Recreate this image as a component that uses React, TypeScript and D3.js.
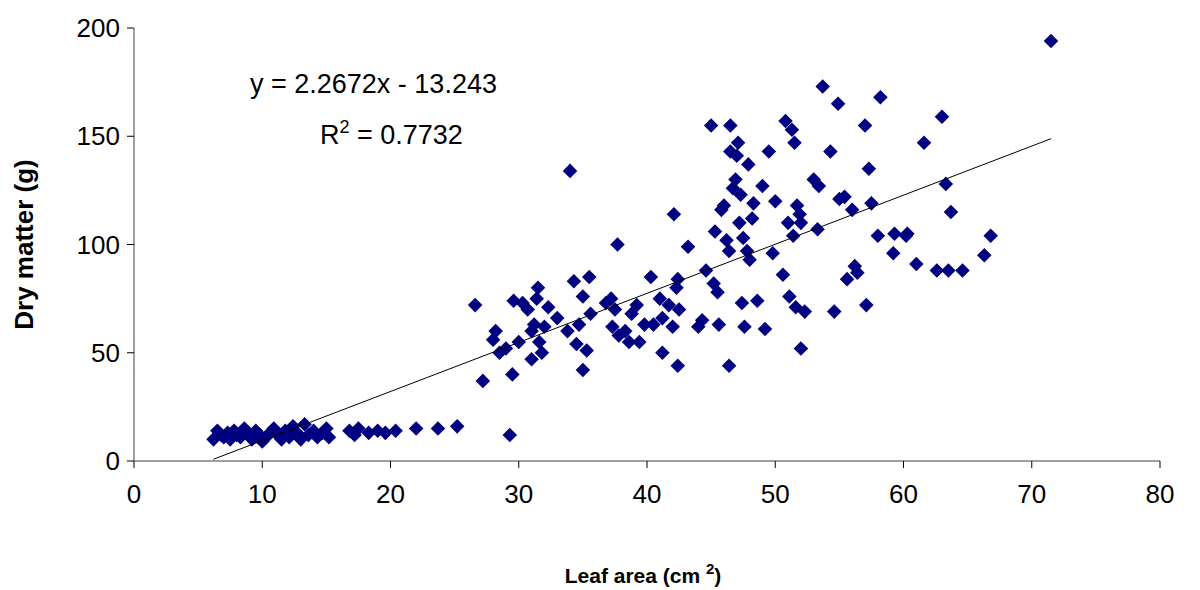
import * as d3 from 'd3'

const xs = [6.2,6.5,6.8,7,7.3,7.5,7.8,8,8.3,8.6,8.9,9.2,9.5,9.8,10,10.3,10.6,10.9,11.2,11.5,11.8,12.1,12.4,12.7,13,13.3,13.6,14,14.3,14.7,15,15.2,16.8,17.2,17.5,18.3,19,19.6,20.4,22,23.7,25.2,
26.6,27.2,28,28.2,28.5,29,29.3,29.5,29.6,30,30.3,30.7,31,31,31.2,31.4,31.5,31.6,31.8,32,32.3,33,33.8,34,34.3,34.5,34.7,35,35,35.3,35.5,35.6,36.8,37.2,37.3,37.5,37.7,37.8,38.3,38.6,38.8,39.2,39.4,39.8,40.3,40.5,41,41.2,41.2,41.7,42,42.1,42.3,42.4,42.4,42.5,43.2,44,44.3,44.6,45,45.2,45.3,45.5,45.6,45.8,46,46.2,46.4,46.4,46.5,46.5,46.7,46.9,47,47.1,47.2,47.3,47.4,47.5,47.6,47.8,47.9,48,48.2,48.3,48.6,49,49.2,49.5,49.8,50,50.6,50.8,51,51.1,51.3,51.4,51.5,51.6,51.7,51.9,52,52,52.3,53,53.3,53.4,53.7,54.3,54.6,54.9,55,55.4,55.6,56,56.2,56.4,57.1,57,57.3,57.5,58,58.2,59.2,59.3,60.2,60.3,61,61.6,62.6,63,63.3,63.5,63.7,64.6,66.3,66.8,71.5]
const ys = [10,14,12,11,13,10,14,12,11,15,13,10,14,12,9,11,13,15,12,10,14,11,16,13,10,17,12,14,11,13,15,11,14,12,15,13,14,13,14,15,15,16,
72,37,56,60,50,52,12,40,74,55,73,70,60,47,63,75,80,55,50,62,71,66,60,134,83,54,63,76,42,51,85,68,73,75,62,70,100,58,60,55,68,72,55,63,85,63,75,66,50,72,62,114,80,44,84,70,99,62,65,88,155,82,106,78,63,116,118,102,44,97,155,143,126,130,141,147,110,123,73,103,62,97,137,93,112,119,74,127,61,143,96,120,86,157,110,76,153,104,147,71,118,114,110,52,69,130,107,127,173,143,69,165,121,122,84,116,90,87,72,155,135,119,104,168,96,105,104,105,91,147,88,159,128,88,115,88,95,104,194]

const xTicks = [0, 10, 20, 30, 40, 50, 60, 70, 80]
const yTicks = [0, 50, 100, 150, 200]
const slope = 2.2672
const intercept = -13.243

export default function App() {
  const W = 1200, H = 590
  const x = d3.scaleLinear().domain([0, 80]).range([134, 1160])
  const y = d3.scaleLinear().domain([0, 200]).range([461, 28])
  const xMin = d3.min(xs)!, xMax = d3.max(xs)!
  const diamond = d3.symbol().type(d3.symbolDiamond2).size(135)()
  const font = 'Arial, "Liberation Sans", sans-serif'
  return (
    <svg width={W} height={H} style={{ position: 'absolute', left: 0, top: 0, fontFamily: font }}>
      <rect width={W} height={H} fill="#fff" />
      <line x1={x(0)} x2={x(0)} y1={y(200)} y2={y(0)} stroke="#808080" strokeWidth={1.5} />
      <line x1={x(0)} x2={x(80)} y1={y(0)} y2={y(0)} stroke="#808080" strokeWidth={1.5} />
      {yTicks.map(t => (
        <g key={t}>
          <line x1={x(0) - 7} x2={x(0)} y1={y(t)} y2={y(t)} stroke="#000" />
          <text x={x(0) - 14} y={y(t)} dy="0.35em" textAnchor="end" fontSize={26}>{t}</text>
        </g>
      ))}
      {xTicks.map(t => (
        <g key={t}>
          <line x1={x(t)} x2={x(t)} y1={y(0)} y2={y(0) + 7} stroke="#000" />
          <text x={x(t)} y={y(0) + 42} textAnchor="middle" fontSize={26}>{t}</text>
        </g>
      ))}
      {xs.map((v, i) => (
        <path key={i} d={diamond} transform={`translate(${x(v)},${y(ys[i])})`} fill="#000080" />
      ))}
      <line x1={x(xMin)} y1={y(slope * xMin + intercept)} x2={x(xMax)} y2={y(slope * xMax + intercept)} stroke="#000" strokeWidth={1} />
      <text x={250} y={93} fontSize={27}>y = 2.2672x - 13.243</text>
      <text x={320} y={144} fontSize={27}>R<tspan dy={-11} fontSize={18}>2</tspan><tspan dy={11}> = 0.7732</tspan></text>
      <text transform={`translate(33,${(y(0) + y(200)) / 2}) rotate(-90)`} textAnchor="middle" fontSize={26} fontWeight="bold">Dry matter (g)</text>
      <text x={643} y={583} textAnchor="middle" fontSize={21} fontWeight="bold">Leaf area  (cm <tspan dy={-9} fontSize={15}>2</tspan><tspan dy={9}>)</tspan></text>
    </svg>
  )
}
